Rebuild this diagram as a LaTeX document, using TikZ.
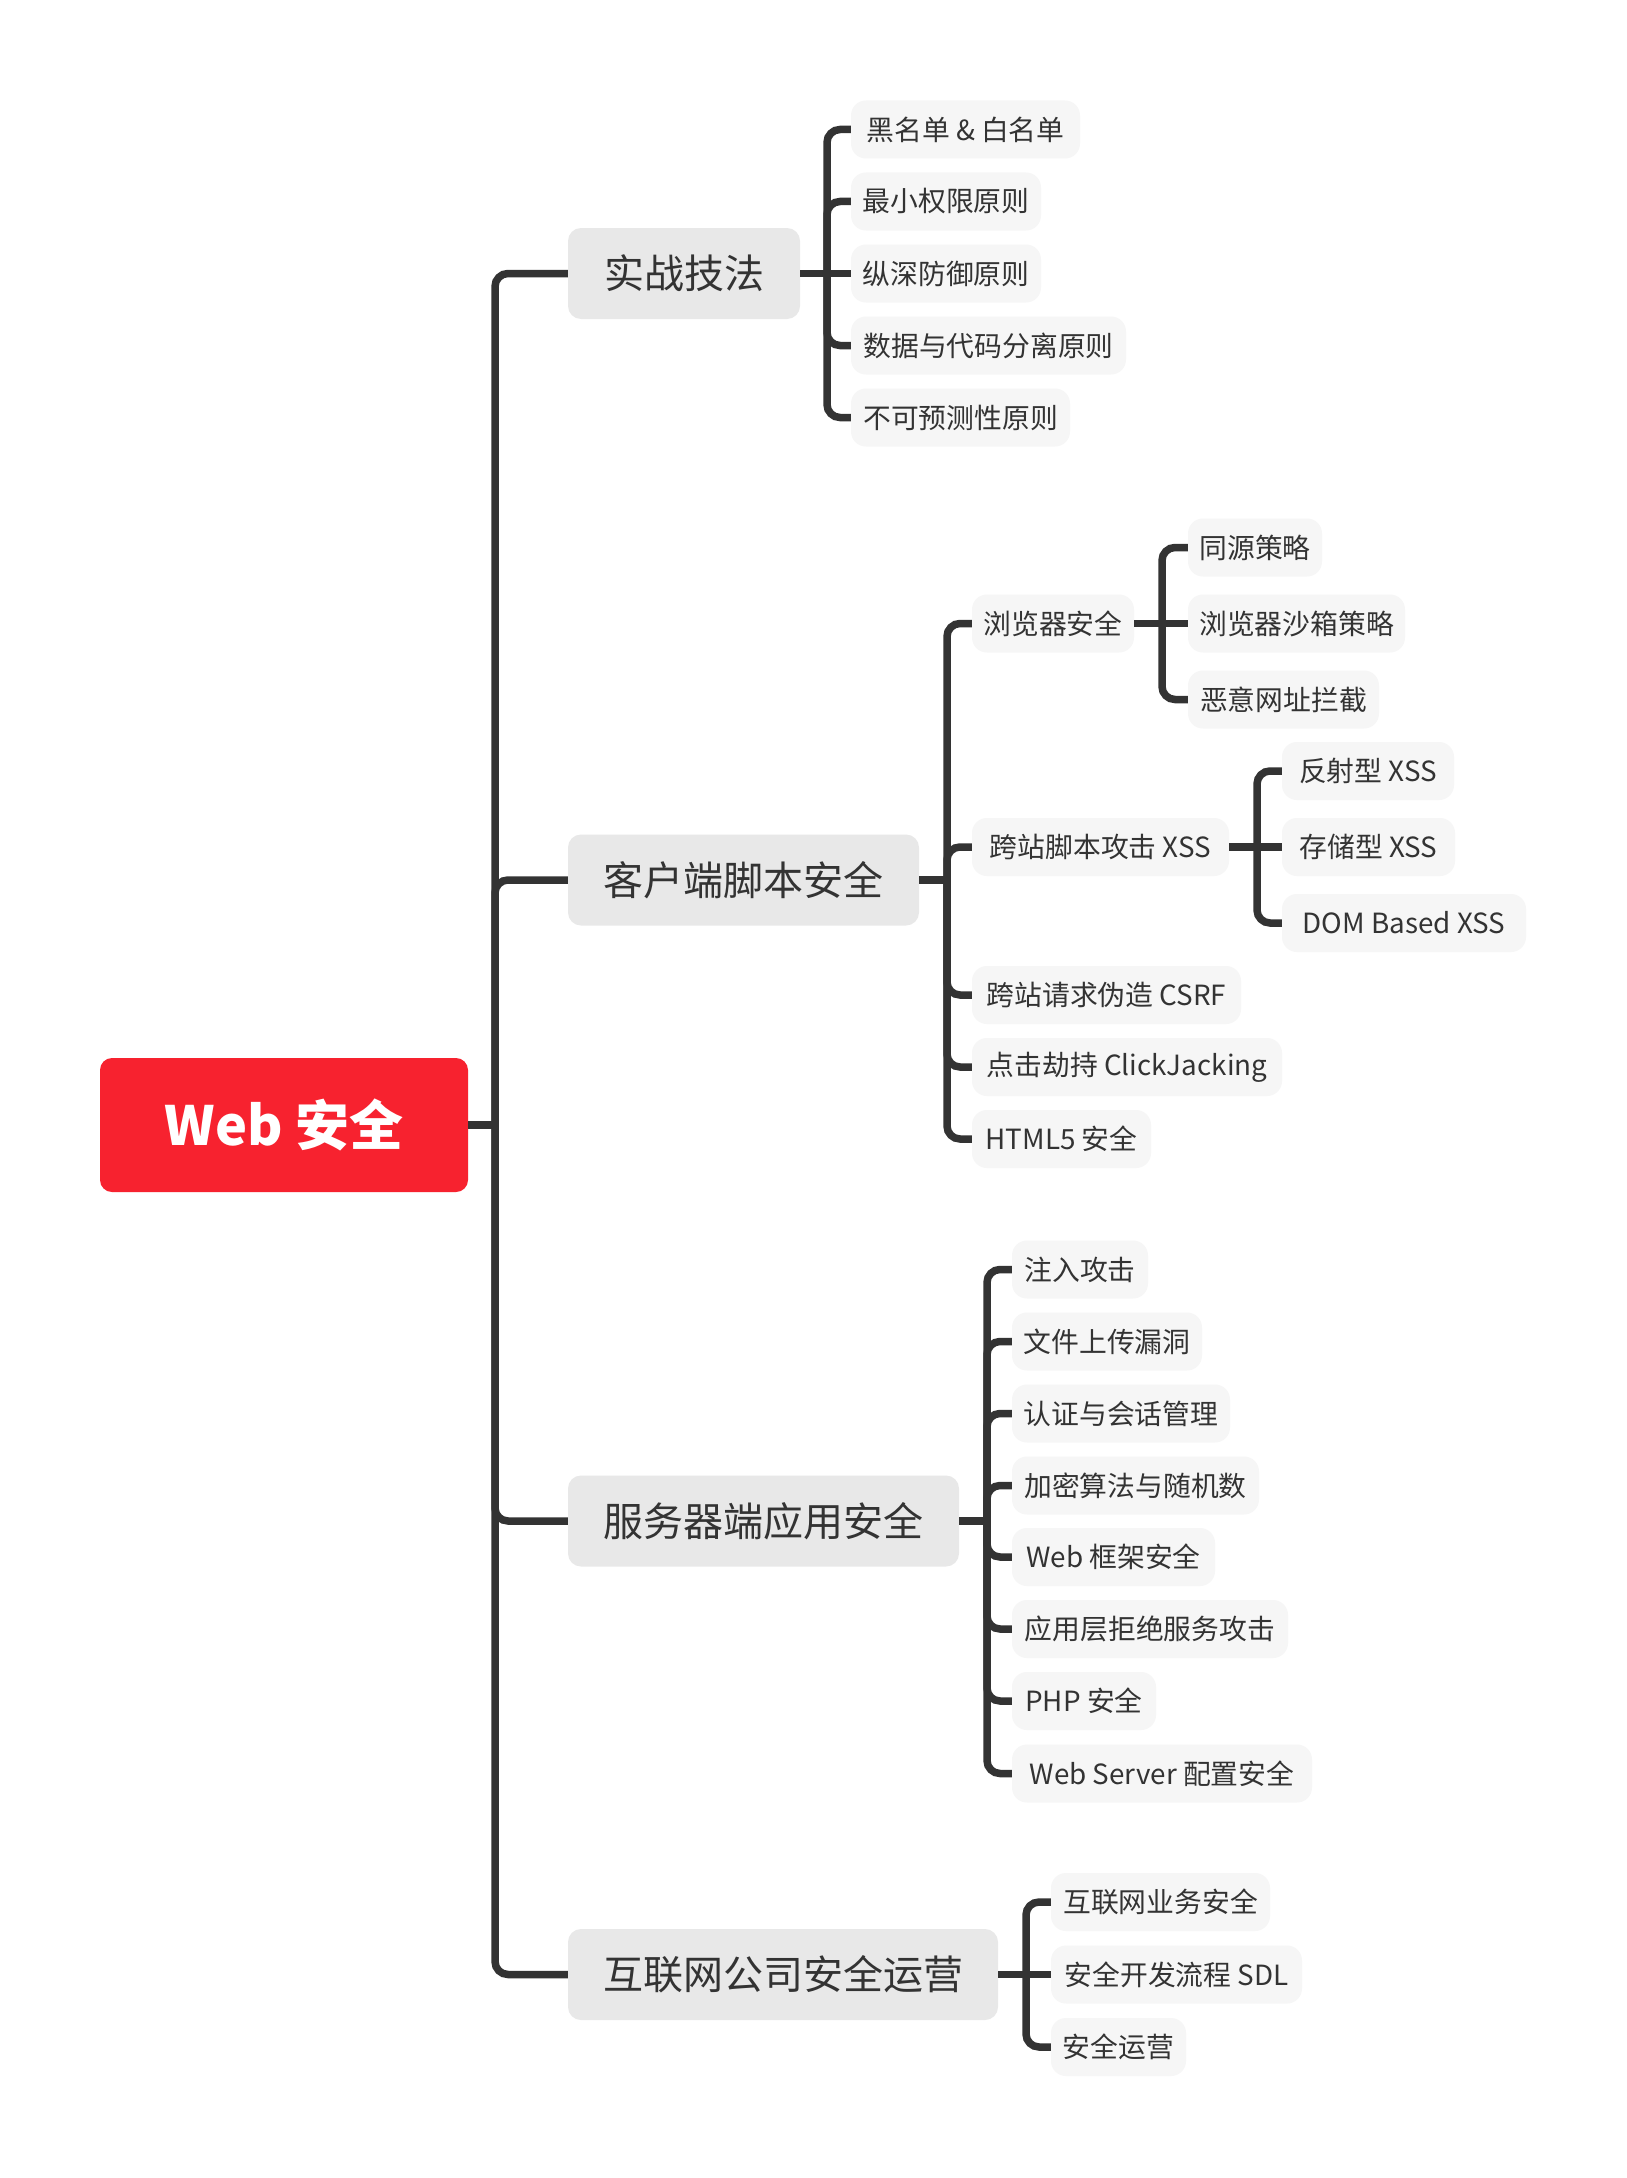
\documentclass[tikz,border=0pt]{standalone}
\usepackage{fontspec}
\setmainfont{Noto Sans CJK SC}
\definecolor{txt}{HTML}{333333}
\definecolor{lc}{HTML}{333333}
\definecolor{rootred}{HTML}{F7222F}
\definecolor{lonefill}{HTML}{E8E8E8}
\definecolor{ltwofill}{HTML}{F6F6F6}
\begin{document}
\begin{tikzpicture}[x=1pt,y=-1pt,
  conn/.style={draw=lc, line width=7.5pt, rounded corners=13pt},
  rootbox/.style={fill=rootred, rounded corners=12pt, text=white, font=\fontsize{54}{60}\selectfont\bfseries, minimum height=134pt, inner sep=0pt},
  lonebox/.style={fill=lonefill, rounded corners=13pt, text=txt, font=\fontsize{40}{48}\selectfont, minimum height=91pt, inner sep=0pt},
  ltwobox/.style={fill=ltwofill, rounded corners=15pt, text=txt, font=\fontsize{27.8}{33}\selectfont, minimum height=58pt, inner sep=0pt},
]
\fill[white] (0,0) rectangle (1626,2178);
\useasboundingbox (0,0) rectangle (1626,2178);

% root and main topics
\node[rootbox, minimum width=368pt] (root) at (284,1125) {Web 安全};
\node[lonebox, minimum width=232pt] (A) at (684,273.5) {实战技法};
\node[lonebox, minimum width=351pt] (B) at (743.5,880) {客户端脚本安全};
\node[lonebox, minimum width=391pt] (C) at (763.5,1521) {服务器端应用安全};
\node[lonebox, minimum width=430pt] (D) at (783,1974.5) {互联网公司安全运营};

% A children
\node[ltwobox, minimum width=229pt] (a1) at (965.5,129.5) {黑名单 \& 白名单};
\node[ltwobox, minimum width=190pt] (a2) at (946,201.5) {最小权限原则};
\node[ltwobox, minimum width=190pt] (a3) at (946,273.5) {纵深防御原则};
\node[ltwobox, minimum width=275pt] (a4) at (988.5,345.5) {数据与代码分离原则};
\node[ltwobox, minimum width=219pt] (a5) at (960.5,417.5) {不可预测性原则};

% B children
\node[ltwobox, minimum width=162pt] (b1) at (1053,623.5) {浏览器安全};
\node[ltwobox, minimum width=257pt] (b2) at (1100.5,847) {跨站脚本攻击 XSS};
\node[ltwobox, minimum width=269pt] (b3) at (1106.5,995) {跨站请求伪造 CSRF};
\node[ltwobox, minimum width=310pt] (b4) at (1127,1067) {点击劫持 ClickJacking};
\node[ltwobox, minimum width=179pt] (b5) at (1061.5,1139) {HTML5 安全};

\node[ltwobox, minimum width=134pt] (b11) at (1255,547.5) {同源策略};
\node[ltwobox, minimum width=217pt] (b12) at (1296.5,623.5) {浏览器沙箱策略};
\node[ltwobox, minimum width=191pt] (b13) at (1283.5,699.5) {恶意网址拦截};

\node[ltwobox, minimum width=172pt] (b21) at (1368,771) {反射型 XSS};
\node[ltwobox, minimum width=173pt] (b22) at (1368.5,847) {存储型 XSS};
\node[ltwobox, minimum width=244pt] (b23) at (1404,923) {DOM Based XSS};

% C children
\node[ltwobox, minimum width=136pt] (c1) at (1080,1269.5) {注入攻击};
\node[ltwobox, minimum width=190pt] (c2) at (1107,1341.5) {文件上传漏洞};
\node[ltwobox, minimum width=218pt] (c3) at (1121,1413.5) {认证与会话管理};
\node[ltwobox, minimum width=247pt] (c4) at (1135.5,1485.5) {加密算法与随机数};
\node[ltwobox, minimum width=203pt] (c5) at (1113.5,1557) {Web 框架安全};
\node[ltwobox, minimum width=276pt] (c6) at (1150,1629) {应用层拒绝服务攻击};
\node[ltwobox, minimum width=144pt] (c7) at (1084,1701) {PHP 安全};
\node[ltwobox, minimum width=300pt] (c8) at (1162,1773.5) {Web Server 配置安全};

% D children
\node[ltwobox, minimum width=219pt] (d1) at (1160.5,1902) {互联网业务安全};
\node[ltwobox, minimum width=251pt] (d2) at (1176.5,1974.5) {安全开发流程 SDL};
\node[ltwobox, minimum width=135pt] (d3) at (1118.5,2047) {安全运营};

% junctions
\coordinate (j0) at (495,1125);
\coordinate (jA) at (827,273.5);
\coordinate (jB) at (947,880);
\coordinate (jC) at (987,1521);
\coordinate (jD) at (1026,1974.5);
\coordinate (jB1) at (1162,623.5);
\coordinate (jB2) at (1257,847);

% connectors
\draw[conn] (root.east) -- (j0);
\foreach \n in {A,B,C,D} \draw[conn] (j0) |- (\n.west);

\draw[conn] (A.east) -- (jA);
\foreach \n in {a1,a2,a4,a5} \draw[conn] (jA) |- (\n.west);
\draw[conn] (jA) -- (a3.west);

\draw[conn] (B.east) -- (jB);
\foreach \n in {b1,b2,b3,b4,b5} \draw[conn] (jB) |- (\n.west);

\draw[conn] (b1.east) -- (jB1);
\foreach \n in {b11,b13} \draw[conn] (jB1) |- (\n.west);
\draw[conn] (jB1) -- (b12.west);

\draw[conn] (b2.east) -- (jB2);
\foreach \n in {b21,b23} \draw[conn] (jB2) |- (\n.west);
\draw[conn] (jB2) -- (b22.west);

\draw[conn] (C.east) -- (jC);
\foreach \n in {c1,c2,c3,c4,c5,c6,c7,c8} \draw[conn] (jC) |- (\n.west);

\draw[conn] (D.east) -- (jD);
\foreach \n in {d1,d3} \draw[conn] (jD) |- (\n.west);
\draw[conn] (jD) -- (d2.west);
\end{tikzpicture}
\end{document}
